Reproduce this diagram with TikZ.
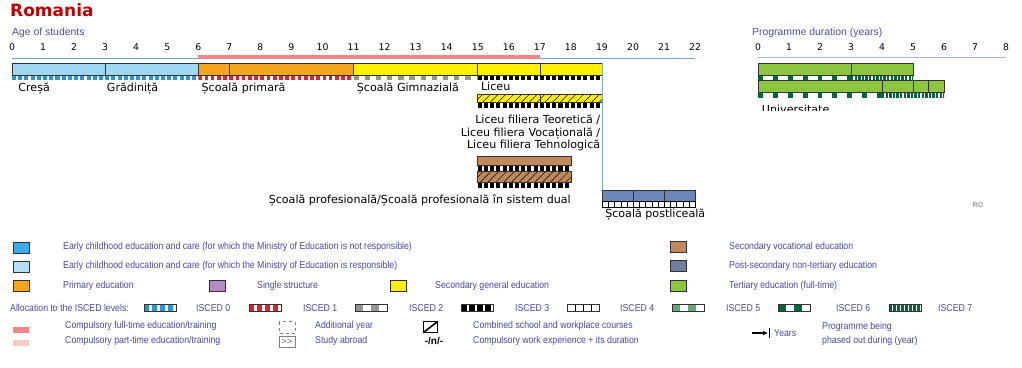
\documentclass[tikz,border=0pt]{standalone}
\usepackage{fontspec}
\setmainfont{DejaVu Sans}
\newfontfamily\legfont[FakeStretch=0.875]{Liberation Sans}
\newfontfamily\axfont{Liberation Sans}
\usetikzlibrary{patterns.meta,arrows.meta}

\definecolor{titlered}{RGB}{192,0,0}
\definecolor{axisblue}{RGB}{70,80,165}
\definecolor{axisline}{RGB}{125,160,215}
\definecolor{compred}{RGB}{242,135,135}
\definecolor{comppink}{RGB}{248,200,200}
\definecolor{ececlight}{RGB}{160,216,243}
\definecolor{ecec}{RGB}{62,168,236}
\definecolor{iscedzero}{RGB}{40,150,215}
\definecolor{primary}{RGB}{246,166,30}
\definecolor{iscedone}{RGB}{228,32,46}
\definecolor{secgen}{RGB}{255,240,0}
\definecolor{iscedtwo}{RGB}{150,150,150}
\definecolor{secvoc}{RGB}{192,136,92}
\definecolor{postsec}{RGB}{108,134,184}
\definecolor{postseclegend}{RGB}{110,125,160}
\definecolor{tertiary}{RGB}{140,198,63}
\definecolor{darkgreen}{RGB}{0,104,58}
\definecolor{midgreen}{RGB}{95,170,115}
\definecolor{single}{RGB}{180,140,200}
\definecolor{legblue}{RGB}{72,72,165}
\definecolor{bardark}{RGB}{50,50,50}

% strip of ISCED marks: x from #1 to #2, top #3, bottom #4, colour #5, period #6, mark width #7
\newcommand{\iscedstrip}[7]{%
  \begin{scope}
    \clip (#1,#3) rectangle (#2,#4);
    \fill[white] (#1,#3) rectangle (#2,#4);
    \pgfmathtruncatemacro\nn{(#2-#1)/#6}
    \foreach \k in {0,...,\nn}
      \fill[#5] ({#1+\k*#6},#3) rectangle ++(#7,#4-#3);
  \end{scope}}

\begin{document}
\begin{tikzpicture}[x=1pt,y=-1pt,
    bar/.style ={draw=bardark, line width=0.6pt},
    lbl/.style ={font=\fontsize{11.1}{13}\selectfont, inner sep=0pt},
    ticknum/.style ={font=\fontsize{9.3}{10}\selectfont, inner sep=0pt},
    axtitle/.style ={font=\axfont\fontsize{10.4}{12}\selectfont, text=axisblue, anchor=west, inner sep=0pt},
    legtxt/.style ={font=\legfont\fontsize{10}{12}\selectfont, text=legblue, anchor=west, inner sep=0pt},
    legbox/.style ={draw=bardark, line width=0.8pt},
    hatch/.style ={pattern={Lines[angle=45,distance=5.5pt,line width=0.5pt]}, pattern color=black}]
   \useasboundingbox (0,0) rectangle (1022,367);

   \node[font=\bfseries\fontsize{17}{20}\selectfont, text=titlered, anchor=base west, inner sep=0pt] (title) at (10,16.7) {Romania};
   \node[axtitle] (agetitle) at (12,33) {Age of students};
   \node[axtitle] (durtitle) at (752,33) {Programme duration (years)};
   \node[font=\axfont\bfseries\fontsize{7}{8}\selectfont, text=black!40, inner sep=0pt] (country) at (978,205) {RO};

   % age axis and bars
   \begin{scope}[shift={(12,0)}, x=31.05pt]
   \foreach \a in {0,...,22}
     \node[ticknum] (age\a) at (\a,47) {\a};
   \draw[axisline, line width=0.8pt] (0,58.3) -- (22,58.3);
   \fill[compred] (6,54.5) rectangle (17,58.5);

   % Cresa, Gradinita
   \fill[ececlight] (0,63) rectangle (6,75);
   \iscedstrip{0}{6}{75}{80}{iscedzero}{0.2}{0.13}
   \draw[bar] (0,63) rectangle (6,75) (3,63) -- (3,75);

   % Scoala primara
   \fill[primary] (6,63) rectangle (11,75);
   \iscedstrip{6}{11}{75}{80}{iscedone}{0.2}{0.12}
   \draw[bar] (6,63) rectangle (11,75) (7,63) -- (7,75);

   % Scoala Gimnaziala
   \fill[secgen] (11,63) rectangle (15,75);
   \iscedstrip{11}{15}{75}{80}{iscedtwo}{0.36}{0.17}
   \draw[bar] (11,63) rectangle (15,75);

   % Liceu
   \fill[secgen] (15,63) rectangle (19,75);
   \iscedstrip{15}{19}{75}{80}{black}{0.2}{0.13}
   \draw[bar] (15,63) rectangle (19,75) (17,63) -- (17,75);

   % Liceu filiera
   \fill[secgen] (15,94) rectangle (19,102.5);
   \fill[hatch] (15,94) rectangle (19,102.5);
   \iscedstrip{15}{19}{102.5}{107.5}{black}{0.2}{0.13}
   \draw[bar] (15,94) rectangle (19,102.5) (17,94) -- (17,102.5);

   % Scoala profesionala
   \fill[secvoc] (15,156) rectangle (18,165.5);
   \iscedstrip{15}{18}{165.5}{171.5}{black}{0.2}{0.13}
   \fill[secvoc] (15,171.5) rectangle (18,182.5);
   \fill[hatch] (15,171.5) rectangle (18,182.5);
   \iscedstrip{15}{18}{182.5}{188}{black}{0.2}{0.13}
   \draw[bar] (15,156) rectangle (18,165.5) (15,171.5) rectangle (18,182.5);

   % Scoala postliceala
   \fill[postsec] (19,190) rectangle (22,201);
   \iscedstrip{19}{22}{201}{207}{black}{0.2}{0.03}
   \draw[bar] (19,190) rectangle (22,201) (20,190) -- (20,201) (21,190) -- (21,201);
   \draw[black, line width=0.5pt] (19,201) rectangle (22,207);

   \coordinate (liceuend) at (19,63);
   \coordinate (postlicstart) at (19,190);
   \draw[axisline, line width=0.6pt] (liceuend) -- (postlicstart);

   \node[lbl, anchor=base west] (cresa) at (0.2,91) {Creșă};
   \node[lbl, anchor=base west] (gradinita) at (3.05,91) {Grădiniță};
   \node[lbl, anchor=base west] (primara) at (6.1,91) {Școală primară};
   \node[lbl, anchor=base west] (gimnaziala) at (11.1,91) {Școală Gimnazială};
   \node[lbl, anchor=base west] (liceu) at (15.1,90.5) {Liceu};
   \node[lbl, anchor=base east] (filiera1) at (18.95,123.5) {Liceu filiera Teoretică /};
   \node[lbl, anchor=base east] (filiera2) at (18.95,136) {Liceu filiera Vocațională /};
   \node[lbl, anchor=base east] (filiera3) at (18.95,148.5) {Liceu filiera Tehnologică};
   \node[lbl, anchor=base east] (profesionala) at (18,203.5) {Școală profesională/Școală profesională în sistem dual};
   \node[lbl, anchor=base west] (postliceala) at (19.1,217.5) {Școală postliceală};
   \end{scope}

   % programme duration axis and Universitate
   \begin{scope}[shift={(758,0)}, x=31pt]
   \foreach \d in {0,...,8}
     \node[ticknum] (dur\d) at (\d,47) {\d};
   \draw[axisline!70, line width=0.8pt] (0,57.7) -- (8,57.7);

   \fill[tertiary] (0,63) rectangle (5,75);
   \iscedstrip{0}{3}{75}{80}{darkgreen}{0.48}{0.16}
   \iscedstrip{3}{5}{75}{80}{darkgreen}{0.116}{0.077}
   \draw[bar] (0,63) rectangle (5,75) (3,63) -- (3,75);

   \fill[tertiary] (0,80) rectangle (6,92);
   \iscedstrip{0}{4}{92}{98}{darkgreen}{0.48}{0.16}
   \iscedstrip{4}{6}{92}{98}{darkgreen}{0.116}{0.077}
   \draw[bar] (0,80) rectangle (6,92) (4,80) -- (4,92) (5,80) -- (5,92) (5.5,80) -- (5.5,92);

   \begin{scope}
   \clip (0,99) rectangle (4,110.5);
   \node[lbl, anchor=base west] (universitate) at (0.12,113) {Universitate};
   \end{scope}
   \end{scope}

   % legend: categories
   \draw[legbox, fill=ecec] (13,242) rectangle (29,253);
   \node[legtxt] (legececno) at (63,247) {Early childhood education and care (for which the Ministry of Education is not responsible)};
   \draw[legbox, fill=ececlight!80] (13,261) rectangle (29,272);
   \node[legtxt] (legecec) at (63,266) {Early childhood education and care (for which the Ministry of Education is responsible)};
   \draw[legbox, fill=primary] (13,280) rectangle (29,291);
   \node[legtxt] (legprimary) at (63,285.5) {Primary education};
   \draw[legbox, fill=single] (209,280) rectangle (225,291);
   \node[legtxt] (legsingle) at (257,285.5) {Single structure};
   \draw[legbox, fill=secgen] (390,280) rectangle (406,291);
   \node[legtxt] (legsecgen) at (435,285.5) {Secondary general education};
   \draw[legbox, fill=secvoc] (670,241) rectangle (686,252);
   \node[legtxt] (legsecvoc) at (729,246.5) {Secondary vocational education};
   \draw[legbox, fill=postseclegend] (670,260) rectangle (686,271);
   \node[legtxt] (legpostsec) at (729,266) {Post-secondary non-tertiary education};
   \draw[legbox, fill=tertiary] (670,280) rectangle (686,291);
   \node[legtxt] (legtertiary) at (729,285.5) {Tertiary education (full-time)};

   % legend: ISCED levels
   \node[legtxt] (legisced) at (10,308) {Allocation to the ISCED levels:};
   \iscedstrip{144}{176}{304}{311}{iscedzero}{8}{5}
   \node[legtxt] (legiscedzero) at (196,308) {ISCED 0};
   \iscedstrip{249}{282}{304}{311}{iscedone}{8}{5}
   \node[legtxt] (legiscedone) at (303,308) {ISCED 1};
   \iscedstrip{355}{387}{304}{311}{iscedtwo}{16}{8}
   \node[legtxt] (legiscedtwo) at (409,308) {ISCED 2};
   \iscedstrip{461}{493}{304}{311}{black}{8}{5.5}
   \node[legtxt] (legiscedthree) at (515,308) {ISCED 3};
   \iscedstrip{567}{599}{304}{311}{black}{8}{0.9}
   \node[legtxt] (legiscedfour) at (620,308) {ISCED 4};
   \iscedstrip{672}{704}{304}{311}{midgreen}{16}{8}
   \node[legtxt] (legiscedfive) at (726,308) {ISCED 5};
   \iscedstrip{778}{810}{304}{311}{darkgreen}{16}{8}
   \node[legtxt] (legiscedsix) at (836,308) {ISCED 6};
   \iscedstrip{889}{921}{304}{311}{darkgreen}{4}{2.8}
   \node[legtxt] (legiscedseven) at (938,308) {ISCED 7};
   \foreach \lx in {144,249,355,461,567,672,778,889}
     \draw[bardark, line width=0.6pt] (\lx,304) rectangle ++(32,7);

   % legend: other marks
   \fill[compred] (13,326.5) rectangle (29,332.5);
   \node[legtxt] (legcompfull) at (65,326) {Compulsory full-time education/training};
   \fill[comppink] (13,339.5) rectangle (29,345.5);
   \node[legtxt] (legcomppart) at (65,341) {Compulsory part-time education/training};
   \draw[black!50, dashed, line width=0.5pt] (279,321.5) rectangle (295,333);
   \node[legtxt] (legaddyear) at (315,326) {Additional year};
   \node[draw=black!50, line width=0.5pt, font=\axfont\fontsize{9}{10}\selectfont, text=black!60, inner sep=0.5pt, minimum width=16pt, minimum height=11pt] (abroadbox) at (287,341.5) {>>};
   \node[legtxt] (legabroad) at (315,341) {Study abroad};
   \draw[black, line width=1.3pt] (423.5,321.5) rectangle (437.5,332.5);
   \draw[black, line width=1.6pt] (424,332) -- (437,322);
   \node[legtxt] (legcombined) at (473,326) {Combined school and workplace courses};
   \node[font=\axfont\bfseries\fontsize{10}{12}\selectfont, inner sep=0pt] (workexp) at (434,341) {-/n/-};
   \node[legtxt] (legworkexp) at (473,341) {Compulsory work experience + its duration};
   \coordinate (arrowstart) at (752,333);
   \coordinate (arrowend) at (768,333);
   \draw[black, line width=1.3pt, -{Latex[length=5pt,width=5pt]}] (arrowstart) -- (arrowend);
   \draw[black, line width=1.4pt] (769.5,328) -- (769.5,338);
   \node[legtxt] (legyears) at (774,333) {Years};
   \node[legtxt] (legphased1) at (822,327) {Programme being};
   \node[legtxt] (legphased2) at (822,341) {phased out during (year)};
 \end{tikzpicture}
\end{document}
